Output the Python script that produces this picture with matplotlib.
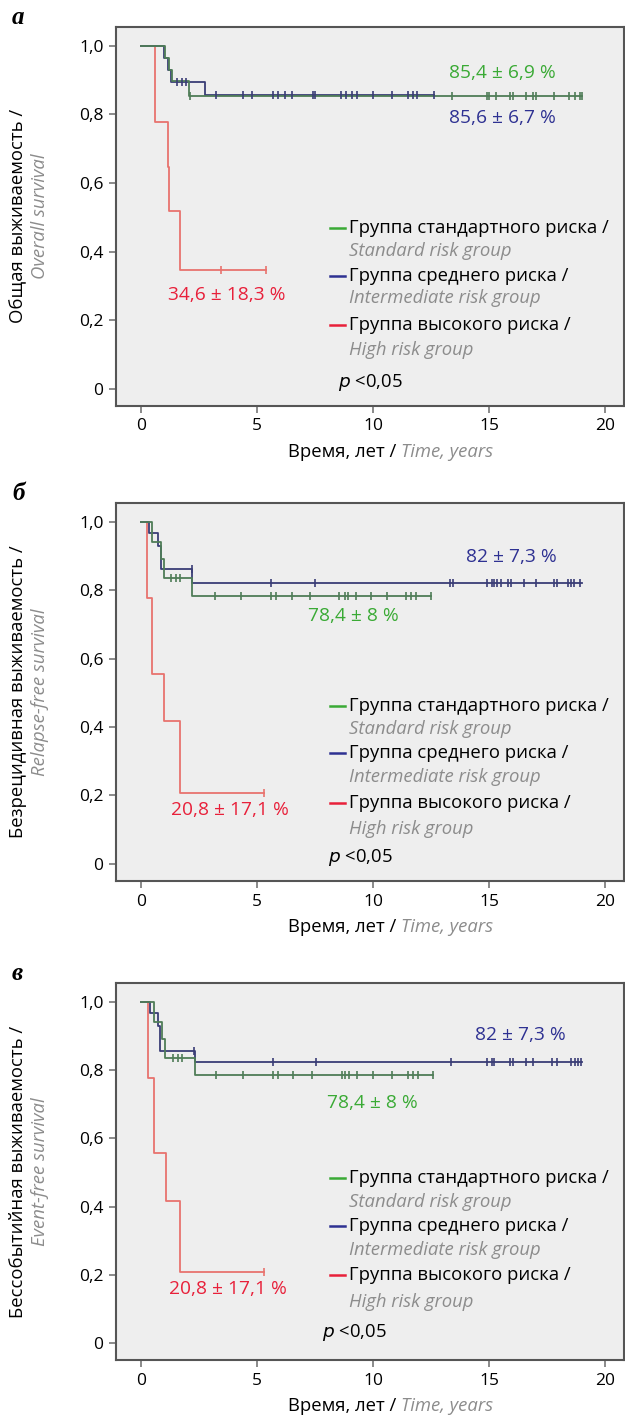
import numpy as np
import matplotlib
matplotlib.use('Agg')
import matplotlib.pyplot as plt

plt.rcParams['font.family'] = ['Open Sans', 'DejaVu Sans']

# panel a: overall survival (steps: times, survival; end of follow-up; censored times)
os_std_t = [0, 1.05, 1.2, 1.35, 2.07]
os_std_s = [1.0, 0.965, 0.93, 0.896, 0.854]
os_std_end = 19.0
os_std_cens = [2.1, 13.4, 14.9, 15.0, 15.3, 15.9, 16.0, 16.6, 16.9, 17.0, 17.8, 18.45, 18.7, 18.9, 19.0]

os_int_t = [0, 1.0, 1.15, 1.3, 2.75]
os_int_s = [1.0, 0.965, 0.93, 0.893, 0.856]
os_int_end = 12.6
os_int_cens = [1.55, 1.75, 1.95, 3.25, 4.4, 4.8, 5.7, 5.9, 6.2, 6.5, 7.4, 7.5, 8.6, 8.85, 9.1, 9.3,
               10.0, 10.8, 11.5, 11.7, 11.9, 12.6]

os_high_t = [0, 0.6, 1.15, 1.22, 1.68]
os_high_s = [1.0, 0.778, 0.648, 0.519, 0.346]
os_high_end = 5.4
os_high_cens = [3.43, 5.4]

# panel b: relapse-free survival
rfs_std_t = [0, 0.5, 0.85, 1.0, 2.22]
rfs_std_s = [1.0, 0.94, 0.89, 0.836, 0.784]
rfs_std_end = 12.5
rfs_std_cens = [1.3, 1.53, 1.68, 3.18, 4.33, 5.6, 5.8, 6.5, 7.3, 8.55, 8.77, 8.9, 9.28, 9.9, 10.6,
                11.4, 11.65, 11.86, 12.5]

rfs_int_t = [0, 0.35, 0.75, 0.85, 2.22]
rfs_int_s = [1.0, 0.966, 0.93, 0.862, 0.82]
rfs_int_end = 19.0
rfs_int_cens = [2.2, 5.6, 7.5, 13.3, 13.45, 14.9, 15.1, 15.2, 15.35, 15.5, 15.8, 15.95, 16.5, 17.0,
                17.8, 17.9, 18.4, 18.5, 18.65, 18.9]

rfs_high_t = [0, 0.25, 0.5, 1.0, 1.7]
rfs_high_s = [1.0, 0.778, 0.556, 0.417, 0.208]
rfs_high_end = 5.3
rfs_high_cens = [5.3]

# panel c: event-free survival
efs_std_t = [0, 0.55, 0.9, 1.05, 2.32]
efs_std_s = [1.0, 0.94, 0.89, 0.836, 0.784]
efs_std_end = 12.56
efs_std_cens = [1.38, 1.6, 1.75, 3.25, 4.4, 5.7, 5.9, 6.55, 7.35, 8.65, 8.8, 8.95, 9.3, 10.0, 10.8,
                11.5, 11.7, 11.95, 12.56]

efs_int_t = [0, 0.4, 0.75, 0.82, 2.32]
efs_int_s = [1.0, 0.967, 0.93, 0.856, 0.823]
efs_int_end = 19.0
efs_int_cens = [2.3, 5.7, 7.55, 13.36, 14.9, 15.1, 15.2, 15.9, 16.0, 16.6, 16.9, 17.7, 17.9, 18.5,
                18.7, 18.8, 18.96]

efs_high_t = [0, 0.3, 0.56, 1.1, 1.7]
efs_high_s = [1.0, 0.778, 0.556, 0.417, 0.208]
efs_high_end = 5.3
efs_high_cens = [5.3]

panel_letters = ['а', 'б', 'в']
ylabels_ru = ['Общая выживаемость /', 'Безрецидивная выживаемость /', 'Бессобытийная выживаемость /']
ylabels_en = ['Overall survival', 'Relapse-free survival', 'Event-free survival']
group_ru = ['Группа стандартного риска /', 'Группа среднего риска /', 'Группа высокого риска /']
group_en = ['Standard risk group', 'Intermediate risk group', 'High risk group']
labels_a = ['85,4 ± 6,9 %', '85,6 ± 6,7 %', '34,6 ± 18,3 %']
labels_b = ['78,4 ± 8 %', '82 ± 7,3 %', '20,8 ± 17,1 %']
labels_c = ['78,4 ± 8 %', '82 ± 7,3 %', '20,8 ± 17,1 %']

text_colors = ['#3aaa35', '#2e3192', '#e8203a']
curve_colors = ['#4f7d57', '#3a3d76', '#e8736e']
GRAY = '#8c8c8c'
FS = 13.3

panels = [
    dict(curves=[(os_std_t, os_std_s, os_std_end, os_std_cens),
                 (os_int_t, os_int_s, os_int_end, os_int_cens),
                 (os_high_t, os_high_s, os_high_end, os_high_cens)],
         labels=labels_a, label_pos=[(15.57, 0.921), (15.57, 0.79), (3.7, 0.274)],
         rect=[0.1856, 0.7133, 0.8128, 0.2677],
         leg_y=[0.469, 0.403, 0.330, 0.265, 0.187, 0.114], p_pos=(8.47, 0.017)),
    dict(curves=[(rfs_std_t, rfs_std_s, rfs_std_end, rfs_std_cens),
                 (rfs_int_t, rfs_int_s, rfs_int_end, rfs_int_cens),
                 (rfs_high_t, rfs_high_s, rfs_high_end, rfs_high_cens)],
         labels=labels_b, label_pos=[(9.16, 0.725), (15.96, 0.898), (3.83, 0.158)],
         rect=[0.1856, 0.3778, 0.8128, 0.2670],
         leg_y=[0.462, 0.395, 0.325, 0.254, 0.178, 0.102], p_pos=(8.04, 0.02)),
    dict(curves=[(efs_std_t, efs_std_s, efs_std_end, efs_std_cens),
                 (efs_int_t, efs_int_s, efs_int_end, efs_int_cens),
                 (efs_high_t, efs_high_s, efs_high_end, efs_high_cens)],
         labels=labels_c, label_pos=[(9.98, 0.704), (16.34, 0.903), (3.74, 0.158)],
         rect=[0.1856, 0.0395, 0.8128, 0.2663],
         leg_y=[0.484, 0.413, 0.343, 0.273, 0.199, 0.12], p_pos=(7.8, 0.032)),
]


def surv_at(t, s, x):
    idx = np.searchsorted(np.array(t), np.array(x), side='right') - 1
    return np.array(s)[idx]


fig = plt.figure(figsize=(6.25, 14.16), dpi=100)

for i, p in enumerate(panels):
    ax = fig.add_axes(p['rect'])
    ax.set_facecolor('#eeeeee')
    ax.set_xlim(-1.07, 20.8)
    ax.set_ylim(-0.05, 1.055)

    for k, (t, s, end, cens) in enumerate(p['curves']):
        xs = list(t) + [end]
        ys = list(s) + [s[-1]]
        ax.step(xs, ys, where='post', color=curve_colors[k], lw=1.3, zorder=3 - k * 0.1)
        ax.plot(cens, surv_at(t, s, cens), ls='none', marker='|', ms=6, mew=1.2,
                color=curve_colors[k], zorder=3)

    for k, (txt, (lx, ly)) in enumerate(zip(p['labels'], p['label_pos'])):
        ax.text(lx, ly, txt, color=text_colors[k], fontsize=FS + 0.5, ha='center', va='center')

    # legend drawn by hand: coloured dash, russian line, italic english line
    ly = p['leg_y']
    for k in range(3):
        ax.plot([8.13, 8.8], [ly[2 * k], ly[2 * k]], color=text_colors[k], lw=1.8)
        ax.text(8.95, ly[2 * k], group_ru[k], fontsize=FS, va='center', ha='left')
        ax.text(8.95, ly[2 * k + 1], group_en[k], fontsize=FS, va='center', ha='left',
                style='italic', color=GRAY)
    ax.text(p['p_pos'][0], p['p_pos'][1], r'$p$ <0,05', fontsize=FS, va='center', ha='left')

    ax.set_xticks([0, 5, 10, 15, 20])
    ax.set_yticks([0, 0.2, 0.4, 0.6, 0.8, 1.0])
    ax.set_yticklabels(['0', '0,2', '0,4', '0,6', '0,8', '1,0'])
    ax.tick_params(labelsize=12.5, length=5, width=1.2, color='#777777', pad=4)
    for sp in ax.spines.values():
        sp.set_color('#555555')
        sp.set_linewidth(1.5)

    x0, y0, w, h = p['rect']
    yc = y0 + h / 2
    fig.text(18 / 625, yc, ylabels_ru[i], rotation=90, ha='center', va='center', fontsize=FS)
    fig.text(40 / 625, yc, ylabels_en[i], rotation=90, ha='center', va='center', fontsize=FS,
             style='italic', color=GRAY)
    fig.text(12 / 625, y0 + h + 9 / 1416, panel_letters[i], fontsize=18, fontweight='bold',
             style='italic', family='Liberation Serif', ha='left', va='center')
    xl_y = y0 - 46 / 1416
    fig.text(401 / 625, xl_y, 'Время, лет / ', ha='right', va='center', fontsize=FS)
    fig.text(401 / 625, xl_y, 'Time, years', ha='left', va='center', fontsize=FS,
             style='italic', color=GRAY)

fig.savefig('out.png', dpi=100)
